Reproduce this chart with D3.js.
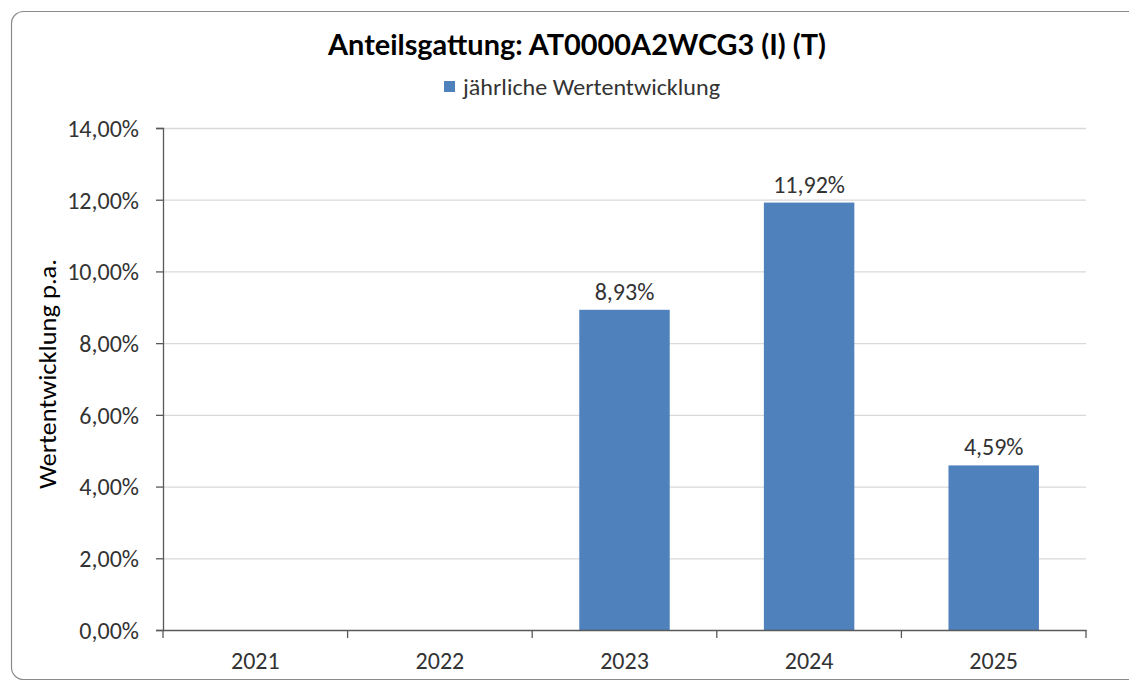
<!DOCTYPE html>
<html><head><meta charset="utf-8">
<script src="https://cdn.jsdelivr.net/npm/d3@7"></script>
<style>body{margin:0;background:#fff}svg{display:block}</style>
</head><body>
<script>
const years = ["2021","2022","2023","2024","2025"];
const values = [null, null, 8.93, 11.92, 4.59];
const yTicks = [0,2,4,6,8,10,12,14];
const title = "Anteilsgattung: AT0000A2WCG3 (I) (T)";
const legendLabel = "jährliche Wertentwicklung";
const yAxisTitle = "Wertentwicklung p.a.";

const W = 1129, H = 681;
const font = "Carlito, Lato, 'Open Sans', 'Noto Sans', sans-serif";
const svg = d3.select("body").append("svg").attr("width", W).attr("height", H);

// outer frame
svg.append("rect").attr("x", 11.5).attr("y", 11.5).attr("width", 1160).attr("height", 668)
  .attr("rx", 12).attr("fill", "#fff").attr("stroke", "#8a8a8a").attr("stroke-width", 1.2);

const m = {left: 163, right: 1086, top: 128, bottom: 630};
const x = d3.scaleBand().domain(years).range([m.left, m.right]).paddingInner(0.51).paddingOuter(0.255);
const xb = d3.scaleBand().domain(years).range([m.left, m.right]);
const y = d3.scaleLinear().domain([0, 14]).range([m.bottom, m.top]);
const fmt = v => d3.format(".2f")(v).replace(".", ",") + "%";

// gridlines
svg.append("g").selectAll("line").data(yTicks.filter(t => t > 0)).join("line")
  .attr("x1", m.left).attr("x2", m.right)
  .attr("y1", d => y(d) + 0.5).attr("y2", d => y(d) + 0.5)
  .attr("stroke", "#d9d9d9").attr("stroke-width", 1.3);

// bars
const data = years.map((d, i) => ({year: d, v: values[i]})).filter(d => d.v != null);
svg.append("g").selectAll("rect").data(data).join("rect")
  .attr("x", d => x(d.year)).attr("width", x.bandwidth())
  .attr("y", d => y(d.v)).attr("height", d => y(0) - y(d.v))
  .attr("fill", "#4f81bd");

// data labels
svg.append("g").selectAll("text").data(data).join("text")
  .attr("x", d => x(d.year) + x.bandwidth() / 2).attr("y", d => y(d.v) - 10)
  .attr("text-anchor", "middle").attr("font-family", font).attr("font-size", 24)
  .attr("fill", "#333").text(d => fmt(d.v));

// y axis
const yAxis = svg.append("g").attr("transform", `translate(${m.left},0)`)
  .call(d3.axisLeft(y).tickValues(yTicks).tickSize(7).tickFormat(fmt));
yAxis.select(".domain").attr("stroke", "#595959").attr("stroke-width", 1.3);
yAxis.selectAll(".tick line").attr("stroke", "#595959").attr("stroke-width", 1.3);
yAxis.selectAll(".tick text").attr("font-family", font).attr("font-size", 24)
  .attr("fill", "#333").attr("x", -24).attr("dy", "0.35em");

// x axis
const xAxis = svg.append("g").attr("transform", `translate(0,${m.bottom})`)
  .call(d3.axisBottom(xb).tickSize(0).tickPadding(22));
xAxis.select(".domain").attr("stroke", "#595959").attr("stroke-width", 1.3);
xAxis.selectAll(".tick text").attr("font-family", font).attr("font-size", 24).attr("fill", "#333");
// category boundary ticks
const bounds = years.map(d => xb(d)).concat([m.right]);
svg.append("g").selectAll("line").data(bounds).join("line")
  .attr("x1", d => d).attr("x2", d => d).attr("y1", m.bottom).attr("y2", m.bottom + 8)
  .attr("stroke", "#595959").attr("stroke-width", 1.3);

// title
svg.append("text").attr("x", 577).attr("y", 55).attr("text-anchor", "middle")
  .attr("font-family", "Lato, Carlito, sans-serif").attr("font-weight", "bold").attr("font-size", 29)
  .attr("fill", "#000").attr("textLength", 498).attr("lengthAdjust", "spacingAndGlyphs").text(title);

// legend
svg.append("rect").attr("x", 444).attr("y", 81).attr("width", 11).attr("height", 11).attr("fill", "#4f81bd");
svg.append("text").attr("x", 463).attr("y", 95).attr("font-family", font).attr("font-size", 23)
  .attr("fill", "#333").attr("textLength", 257).attr("lengthAdjust", "spacingAndGlyphs").text(legendLabel);

// y axis title
svg.append("text").attr("transform", "translate(56,374) rotate(-90)").attr("text-anchor", "middle")
  .attr("font-family", font).attr("font-size", 24).attr("fill", "#000")
  .attr("textLength", 230).attr("lengthAdjust", "spacingAndGlyphs").text(yAxisTitle);
</script>
</body></html>
